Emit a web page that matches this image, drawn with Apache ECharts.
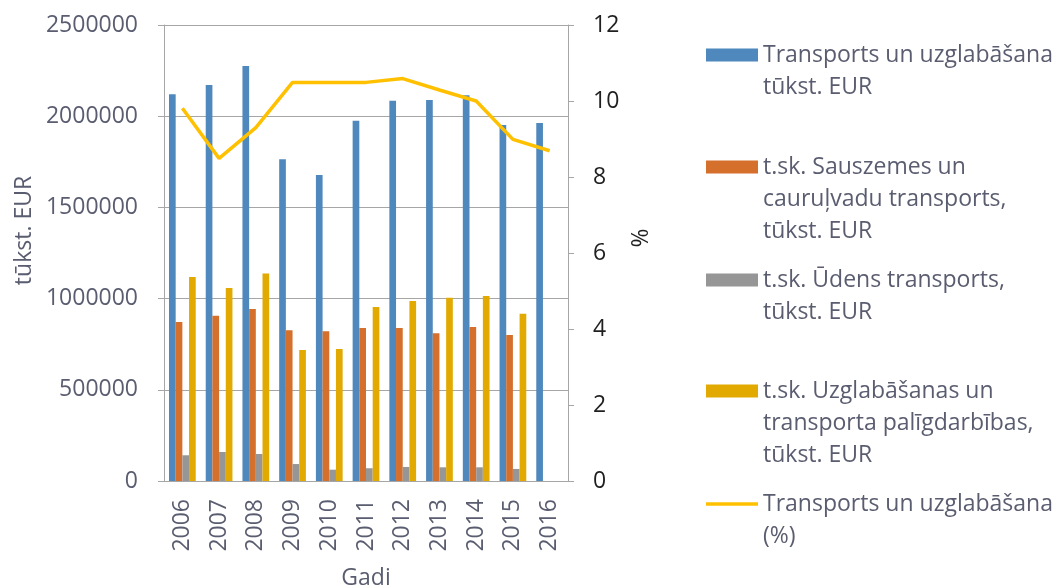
<!DOCTYPE html>
<html>
<head>
<meta charset="utf-8">
<script src="https://cdn.jsdelivr.net/npm/echarts@6/dist/echarts.min.js"></script>
<style>
  html, body { margin: 0; padding: 0; background: #fff; }
  #chart { width: 1054px; height: 587px; }
</style>
</head>
<body>
<div id="chart"></div>
<script>
// gadi
const years = ['2006', '2007', '2008', '2009', '2010', '2011', '2012', '2013', '2014', '2015', '2016'];

// tūkst. EUR
const totalValues = [2120000, 2171000, 2275000, 1764000, 1678000, 1975000, 2085000, 2089000, 2115000, 1952000, 1963000];
const landValues = [872000, 906000, 943000, 826000, 821000, 839000, 839000, 810000, 844000, 800000, null];
const waterValues = [141000, 159000, 148000, 93000, 62000, 70000, 77000, 75000, 75000, 66000, null];
const storageValues = [1118000, 1058000, 1137000, 718000, 724000, 954000, 987000, 1005000, 1014000, 917000, null];

// %
const sharePct = [9.81, 8.49, 9.30, 10.49, 10.49, 10.49, 10.59, 10.29, 10.0, 8.99, 8.69];

const leftTicks = { min: 0, max: 2500000, interval: 500000 };
const rightTicks = { min: 0, max: 12, interval: 2 };

const names = [
  'Transports un uzglabāšana tūkst. EUR',
  't.sk. Sauszemes un cauruļvadu transports, tūkst. EUR',
  't.sk. Ūdens transports, tūkst. EUR',
  't.sk. Uzglabāšanas un transporta palīgdarbības, tūkst. EUR',
  'Transports un uzglabāšana (%)'
];
// legend text as it wraps in the picture
const legendLines = [
  ['Transports un uzglabāšana', 'tūkst. EUR'],
  ['t.sk. Sauszemes un', 'cauruļvadu transports,', 'tūkst. EUR'],
  ['t.sk. Ūdens transports,', 'tūkst. EUR'],
  ['t.sk. Uzglabāšanas un', 'transporta palīgdarbības,', 'tūkst. EUR'],
  ['Transports un uzglabāšana', '(%)']
];
const legendIconY = [55, 167, 280, 391, 504];

const FONT = '"Open Sans", sans-serif';
const TXT = '#5a5d70';
const DARK = '#1f1f1f';
const AXIS = '#a6a6a6';
const LH = 32;
const FS = 23;

const colors = ['#4f88bd', '#d56f2c', '#969696', '#e2aa00', '#ffc000'];

const chart = echarts.init(document.getElementById('chart'));

// icon sits on the first text line: pad the text with blank lines above so the
// block stays centred on the icon
const legends = names.map((n, i) => {
  const lines = legendLines[i];
  const k = lines.length;
  return {
    show: true,
    left: 706,
    top: legendIconY[i] - (2 * k - 1) * LH / 2,
    padding: 0,
    orient: 'vertical',
    itemWidth: 52,
    itemHeight: 13,
    itemGap: 0,
    selectedMode: false,
    data: [{
      name: n,
      icon: i === 4 ? 'path://M0,0 L52,0 L52,3.5 L0,3.5 Z' : 'rect'
    }],
    formatter: () => '\n'.repeat(k - 1) + lines.join('\n'),
    textStyle: { fontFamily: FONT, fontSize: FS, color: TXT, lineHeight: LH }
  };
});

const barSeries = [totalValues, landValues, waterValues, storageValues].map((vals, i) => ({
  name: names[i],
  type: 'bar',
  data: vals,
  barWidth: '18.2%',
  barGap: '0%',
  itemStyle: { color: colors[i] }
}));

chart.setOption({
  animation: false,
  backgroundColor: '#fff',
  textStyle: { fontFamily: FONT },
  grid: { left: 164, right: 486, top: 25, bottom: 106, containLabel: false, outerBoundsMode: 'none' },
  legend: legends,
  xAxis: {
    type: 'category',
    data: years,
    name: 'Gadi',
    nameLocation: 'middle',
    nameGap: 86,
    nameTextStyle: { fontFamily: FONT, fontSize: FS, color: TXT },
    axisLine: { show: true, lineStyle: { color: AXIS, width: 1 } },
    axisTick: { show: false },
    axisLabel: { rotate: 90, margin: 18, fontFamily: FONT, fontSize: FS, color: TXT, interval: 0 },
    splitLine: { show: false }
  },
  yAxis: [
    {
      type: 'value',
      min: leftTicks.min,
      max: leftTicks.max,
      interval: leftTicks.interval,
      name: 'tūkst. EUR',
      nameLocation: 'middle',
      nameGap: 128,
      nameTextStyle: { fontFamily: FONT, fontSize: FS, color: TXT, padding: [0, 0, 0, 45] },
      axisLine: { show: true, lineStyle: { color: AXIS, width: 1 } },
      axisTick: { show: true, length: 6, lineStyle: { color: AXIS } },
      axisLabel: {
        margin: 26, fontFamily: FONT, fontSize: FS, color: TXT,
        formatter: v => String(v)
      },
      splitLine: { show: true, lineStyle: { color: AXIS, width: 1 } }
    },
    {
      type: 'value',
      position: 'right',
      min: rightTicks.min,
      max: rightTicks.max,
      interval: rightTicks.interval,
      name: '%',
      nameLocation: 'middle',
      nameGap: 62,
      nameRotate: 90,
      nameTextStyle: { fontFamily: FONT, fontSize: FS, color: DARK, padding: [0, 0, 0, 30] },
      axisLine: { show: true, lineStyle: { color: AXIS, width: 1 } },
      axisTick: { show: true, length: 6, lineStyle: { color: AXIS } },
      axisLabel: { margin: 25, fontFamily: FONT, fontSize: FS, color: DARK },
      splitLine: { show: false }
    }
  ],
  series: barSeries.concat([{
    name: names[4],
    type: 'line',
    yAxisIndex: 1,
    data: sharePct,
    symbol: 'none',
    z: 5,
    lineStyle: { color: colors[4], width: 3.5 },
    itemStyle: { color: colors[4] }
  }])
});
</script>
</body>
</html>
